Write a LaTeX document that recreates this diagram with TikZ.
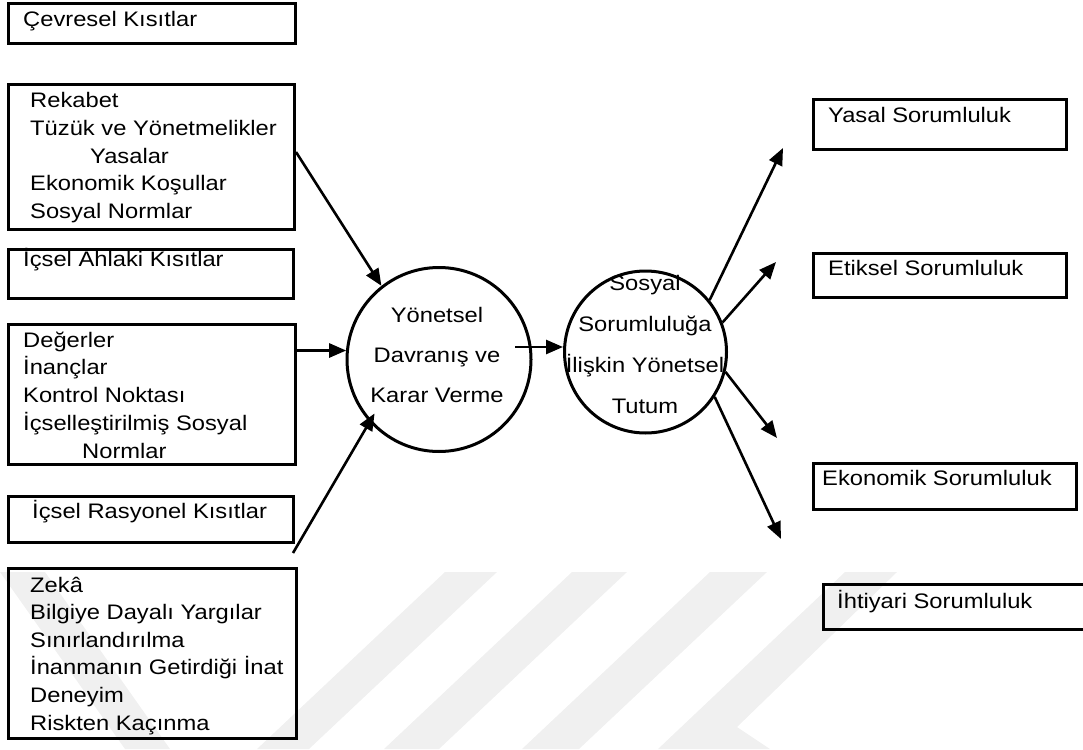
\documentclass[tikz,border=0pt]{standalone}
\usepackage{fontspec}
\setmainfont[FakeStretch=1.13]{Liberation Sans}
\usetikzlibrary{arrows.meta}

% one line of a left-aligned / centred stack
\newcommand\rowl[1]{\hbox{#1}}
\newcommand\rowc[1]{\hbox to 0pt{\hss#1\hss}}
% stack of lines whose baseline is the first line
\newcommand\stacklines[2]{\vtop{\baselineskip=#1\lineskiplimit=-100pt\relax #2}}

\begin{document}
\begin{tikzpicture}[x=1pt,y=-1pt,
  box/.style={draw, line width=3pt, inner sep=0pt, anchor=north west},
  ring/.style={draw, circle, line width=3pt, inner sep=0pt},
  txt/.style={inner sep=0pt, font=\fontsize{21}{27}\selectfont},
  conn/.style={line width=2.6pt, -{Triangle[length=17pt,width=14pt]}},
  wm/.style={fill=black!6, draw=none}]
\useasboundingbox (0,0) rectangle (1083,749);

% faint background stripes
\fill[wm] (0,572) -- (45,572) -- (170,749) -- (125,749) -- cycle;
\fill[wm] (445,572) -- (497,572) -- (309,749) -- (257,749) -- cycle;
\fill[wm] (572,572) -- (627,572) -- (439,749) -- (384,749) -- cycle;
\fill[wm] (710,572) -- (767,572) -- (579,749) -- (522,749) -- cycle;
\fill[wm] (845,572) -- (897,572) -- (737,727) -- (770,749) -- (658,749) -- cycle;

% ---- left column texts
\node[txt, anchor=base west] (t1) at (23,27) {Çevresel Kısıtlar};
\node[txt, anchor=base west] (t2) at (30,108) {\stacklines{27.5pt}{%
  \rowl{Rekabet}\rowl{Tüzük ve Yönetmelikler}\rowl{\hspace*{60pt}Yasalar}%
  \rowl{Ekonomik Koşullar}\rowl{Sosyal Normlar}}};
\node[txt, anchor=base west] (t3) at (23,266) {İçsel Ahlaki Kısıtlar};
\node[txt, anchor=base west] (t4) at (23,347) {\stacklines{27.75pt}{%
  \rowl{Değerler}\rowl{İnançlar}\rowl{Kontrol Noktası}%
  \rowl{İçselleştirilmiş Sosyal}\rowl{\hspace*{59pt}Normlar}}};
\node[txt, anchor=base west] (t5) at (32,518) {İçsel Rasyonel Kısıtlar};
\node[txt, anchor=base west] (t6) at (30,592) {\stacklines{27.6pt}{%
  \rowl{Zekâ}\rowl{Bilgiye Dayalı Yargılar}\rowl{Sınırlandırılma}%
  \rowl{İnanmanın Getirdiği İnat}\rowl{Deneyim}\rowl{Riskten Kaçınma}}};

% ---- left column boxes
\node[box, minimum width=287pt, minimum height=40pt]  (b1) at (7,2)   {};
\node[box, minimum width=286pt, minimum height=145pt] (b2) at (7,83)  {};
\node[box, minimum width=285pt, minimum height=49pt]  (b3) at (7,248) {};
\node[box, minimum width=287pt, minimum height=140pt] (b4) at (7,323) {};
\node[box, minimum width=285pt, minimum height=46pt]  (b5) at (7,495) {};
\node[box, minimum width=288pt, minimum height=170pt] (b6) at (7,567) {};

% ---- central circles
\node[ring, minimum size=184pt] (c1) at (439,359.5) {};
\node[ring, minimum size=162pt] (c2) at (645.5,352) {};
\node[txt, anchor=base] (c1t) at (437,322) {\stacklines{40pt}{%
  \rowc{Yönetsel}\rowc{Davranış ve}\rowc{Karar Verme}}};
\node[txt, anchor=base] (c2t) at (645,290) {\stacklines{41pt}{%
  \rowc{Sosyal}\rowc{Sorumluluğa}\rowc{İlişkin Yönetsel}\rowc{Tutum}}};

% ---- right column
\node[box, minimum width=253pt, minimum height=50pt] (r1) at (812,98)  {};
\node[box, minimum width=253pt, minimum height=44pt] (r2) at (812,252) {};
\node[box, minimum width=263pt, minimum height=46pt] (r3) at (812,462) {};
\node[box, minimum width=268pt, minimum height=45pt] (r4) at (822,583) {};
\node[txt, anchor=base west] (r1t) at (828,123) {Yasal Sorumluluk};
\node[txt, anchor=base west] (r2t) at (828,275) {Etiksel Sorumluluk};
\node[txt, anchor=base west] (r3t) at (822,485) {Ekonomik Sorumluluk};
\node[txt, anchor=base west] (r4t) at (837,608) {İhtiyari Sorumluluk};

% ---- free ends of connectors
\coordinate (a3s) at (293,553);
\coordinate (a4s) at (515,347);
\coordinate (e1) at (783,148);
\coordinate (e2) at (776,262);
\coordinate (e3) at (777,438);
\coordinate (e4) at (781,539);

% ---- connectors
\draw[conn] ([yshift=5pt]b2.east) -- (c1.128);
\draw[conn] ([yshift=44pt]b4.east) -- ([yshift=44pt]b4.east -| c1.173);
\draw[conn, shorten >=-10pt] (a3s) -- (c1.222);
\draw[conn] (a4s) -- (a4s -| c2.west);
\draw[conn] (c2.39) -- (e1);
\draw[conn] (c2.21) -- (e2);
\draw[conn] (c2.-14) -- (e3);
\draw[conn] (c2.-33) -- (e4);
\end{tikzpicture}
\end{document}
